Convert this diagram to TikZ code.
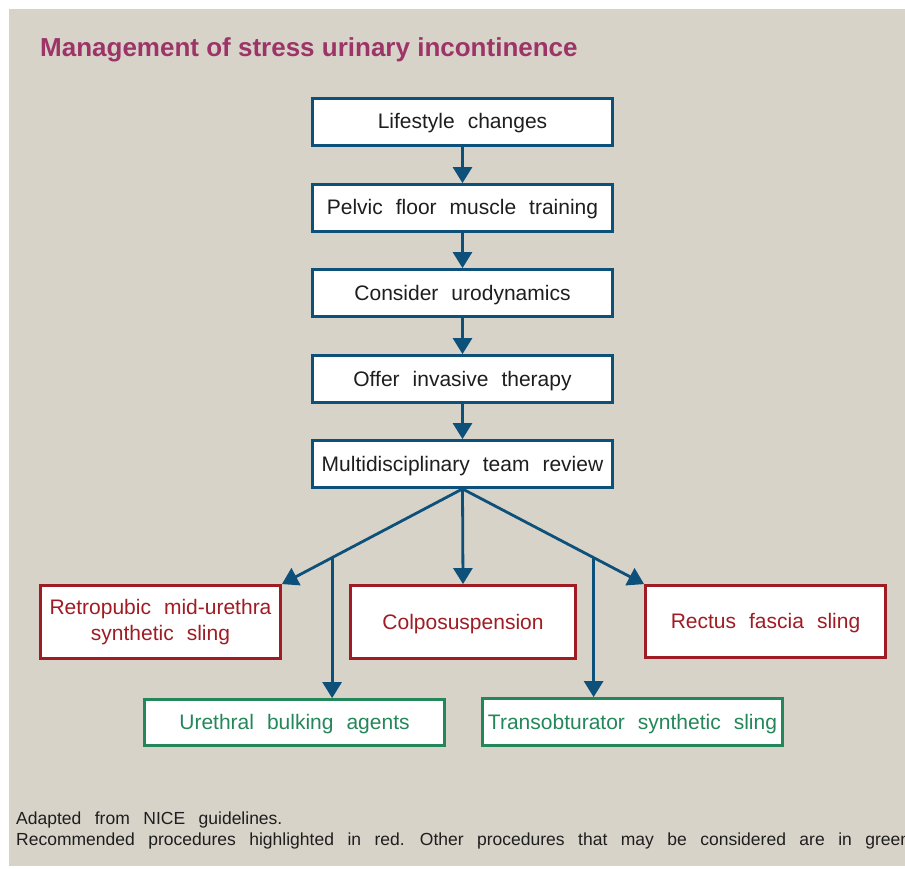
\documentclass[tikz,border=0pt]{standalone}
\usepackage{fontspec}
\setmainfont{Liberation Sans}
\usetikzlibrary{arrows.meta,calc}
\definecolor{bgc}{HTML}{D8D3C9}
\definecolor{titlec}{HTML}{9C3468}
\definecolor{bluec}{HTML}{0D5079}
\definecolor{redc}{HTML}{A01C24}
\definecolor{greenc}{HTML}{24875A}
\definecolor{textc}{HTML}{1E1E1E}
\newcommand\myboxfont{\fontsize{21}{26}\selectfont\spaceskip=13pt plus 2pt minus 1pt\relax}
\newcommand\myfootfont{\fontsize{17.5}{23}\selectfont\spaceskip=13.5pt plus 2pt minus 1pt\relax}
\begin{document}
\begin{tikzpicture}[x=1pt,y=-1pt,
  box/.style={draw=bluec,line width=2.8pt,fill=white,inner sep=0pt,text=textc,
    font=\myboxfont,minimum width=300pt,minimum height=47pt,
    text height=15.5pt,text depth=1.5pt},
  redbox/.style={box,draw=redc,text=redc},
  greenbox/.style={box,draw=greenc,text=greenc},
  arr/.style={draw=bluec,line width=2.8pt,-{Triangle[length=16pt,width=19pt]}},
  foot/.style={anchor=base west,inner sep=0pt,text=textc,font=\myfootfont}
  ]
\useasboundingbox (0,0) rectangle (905,869);
\fill[bgc] (9,9) rectangle (905,866);
\node[anchor=base west,inner sep=0pt,text=titlec,font=\bfseries\fontsize{26}{30}\selectfont] (title) at (40,57) {Management of stress urinary incontinence};
\node[box] (life) at (462.5,122) {Lifestyle changes};
\node[box] (pelvic) at (462.5,208) {Pelvic floor muscle training};
\node[box] (uro) at (462.5,293) {Consider urodynamics};
\node[box] (offer) at (462.5,379) {Offer invasive therapy};
\node[box] (mdt) at (462.5,464) {Multidisciplinary team review};
\node[redbox,minimum width=240pt,minimum height=73pt,align=center,text height={},text depth={}] (retro) at (160.5,622) {Retropubic mid-urethra\\synthetic sling};
\node[redbox,minimum width=225pt,minimum height=73pt] (colpo) at (463,622) {Colposuspension};
\node[redbox,minimum width=240pt,minimum height=72pt] (rect) at (765.5,621.5) {Rectus fascia sling};
\node[greenbox,minimum height=46pt] (ureth) at (294.5,722.5) {Urethral bulking agents};
\node[greenbox] (trans) at (632.5,722) {Transobturator synthetic sling};
\draw[arr] (life) -- (pelvic);
\draw[arr] (pelvic) -- (uro);
\draw[arr] (uro) -- (offer);
\draw[arr] (offer) -- (mdt);
\draw[arr] (mdt.south) -- (retro.north east);
\draw[arr] (mdt.south) -- (colpo.north);
\draw[arr] (mdt.south) -- (rect.north west);
\coordinate (bl) at ($(mdt.south)!0.722!(retro.north east)$);
\coordinate (br) at ($(mdt.south)!0.722!(rect.north west)$);
\draw[arr] (bl) -- (bl |- ureth.north);
\draw[arr] (br) -- (br |- trans.north);
\node[foot] (fn1) at (16,824) {Adapted from NICE guidelines.};
\node[foot] (fn2) at (16,845) {Recommended procedures highlighted in red. Other procedures that may be considered are in green};
\end{tikzpicture}
\end{document}
